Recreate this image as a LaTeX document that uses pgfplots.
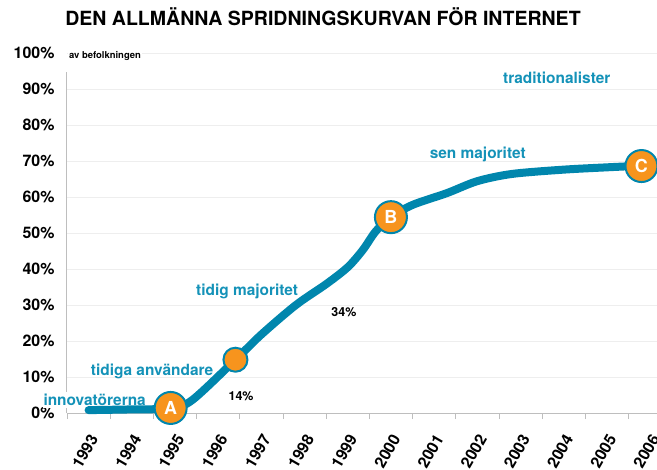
\documentclass[border=0pt]{standalone}
\usepackage{fontspec}
\setmainfont{TeX Gyre Heros}
\usepackage{pgfplots}
\pgfplotsset{compat=1.18}
\definecolor{curve}{RGB}{0,134,173}
\definecolor{lbl}{RGB}{20,146,184}
\definecolor{org}{RGB}{247,148,29}
\definecolor{gridc}{RGB}{238,238,238}
\definecolor{axc}{RGB}{190,190,190}
\begin{document}
\begin{tikzpicture}
\path[use as bounding box] (-67bp,-57bp) rectangle (590bp,413bp);
\begin{axis}[
  at={(0,0)}, anchor=south west,
  scale only axis, width=590bp, height=360bp,
  xmin=1992.5, xmax=2006.16, ymin=0, ymax=100,
  clip=false,
  axis line style={draw=none},
  xtick={1993,...,2006},
  minor xtick={1992.5,1993.5,...,2005.5},
  ytick={0,10,...,100},
  yticklabel={\pgfmathprintnumber{\tick}\%},
  /pgf/number format/assume math mode=true,
  /pgf/number format/1000 sep={},
  tick align=outside,
  xtick pos=bottom, ytick pos=left,
  major tick length=0pt, minor tick length=6bp,
  minor tick style={draw=axc, line width=0.8bp},
  ymajorgrids, major grid style={draw=gridc, line width=0.8bp},
  tick label style={font=\fontsize{16}{16}\selectfont\bfseries, text=black},
  yticklabel style={anchor=east, xshift=-9bp},
  xticklabel style={xshift=7bp, yshift=-20bp, rotate=60, anchor=east},
]
\draw[axc, line width=1bp] (axis cs:1992.5,0) -- (axis cs:2006.16,0);
\draw[axc, line width=1bp] (axis cs:1992.48,0) -- (axis cs:1992.48,94.7);
\node[fill=white, inner sep=1bp, font=\fontsize{9.5}{9.5}\selectfont\bfseries] at (axis cs:1993.38,99.2) {av befolkningen};
\node[fill=white, inner xsep=1bp, inner ysep=2bp, text=lbl, font=\fontsize{15.5}{15.5}\selectfont\bfseries] at (axis cs:1993.14,3.6) {innovatörerna};
\node[text=lbl, font=\fontsize{15.5}{15.5}\selectfont\bfseries] at (axis cs:1994.47,11.67) {tidiga användare};
\node[text=lbl, font=\fontsize{15.5}{15.5}\selectfont\bfseries] at (axis cs:1996.67,33.9) {tidig majoritet};
\node[text=lbl, font=\fontsize{15.5}{15.5}\selectfont\bfseries] at (axis cs:2002.01,71.7) {sen majoritet};
\node[text=lbl, font=\fontsize{15.5}{15.5}\selectfont\bfseries] at (axis cs:2003.84,93) {traditionalister};
\node[font=\fontsize{12.5}{12.5}\selectfont\bfseries] at (axis cs:1996.53,4.7) {14\%};
\node[font=\fontsize{12.5}{12.5}\selectfont\bfseries] at (axis cs:1998.91,28) {34\%};
\addplot[smooth, tension=0.5, line width=8bp, color=curve, line cap=round, line join=round] coordinates {
(1993,0.8) (1994,1.0) (1994.9,1.3) (1995.4,3.6) (1996.4,14.8) (1997,21.8) (1997.8,30.0)
(1998.5,35.8) (1999,40.5) (1999.35,45.3) (1999.65,50.5) (2000,54.4) (2000.5,57.8)
(2001.3,61.1) (2002,64.4) (2002.8,66.4) (2004,67.6) (2005.1,68.3) (2005.8,68.7)
};
\addplot[only marks, mark=*, mark size=12bp, mark options={fill=org, draw=curve, line width=2bp}] coordinates {(1996.4,14.8)};
\addplot[only marks, mark=*, mark size=16bp, mark options={fill=org, draw=curve, line width=2bp},
  nodes near coords, point meta=explicit symbolic,
  every node near coord/.style={anchor=center, text=white, font=\fontsize{18}{18}\selectfont\bfseries}]
  coordinates {(1994.9,1.4)[A] (2000,54.4)[B] (2005.8,68.6)[C]};
\end{axis}
\node[font=\fontsize{19.6}{19.6}\selectfont\bfseries] at (256bp,396bp) {DEN ALLMÄNNA SPRIDNINGSKURVAN FÖR INTERNET};
\end{tikzpicture}
\end{document}
